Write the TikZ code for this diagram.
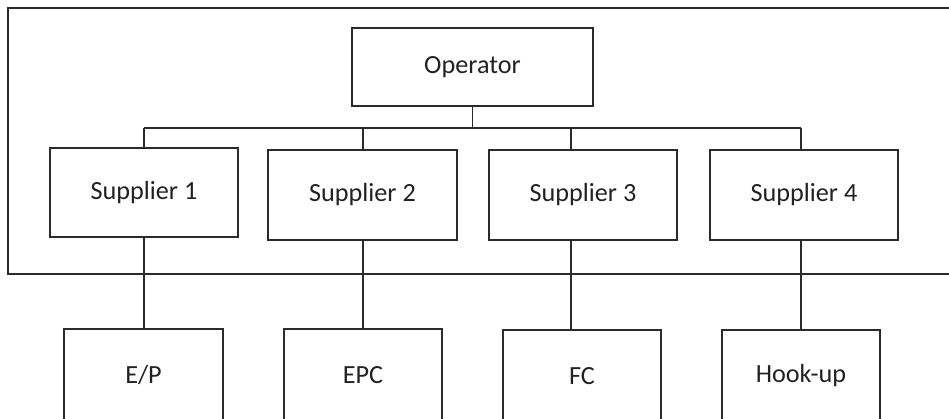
\documentclass[tikz,border=0pt]{standalone}
\usepackage{fontspec}
\setmainfont{Carlito}
\usetikzlibrary{calc}
\definecolor{ink}{HTML}{2B2B2B}
\definecolor{txt}{HTML}{222222}
\tikzset{
  unitbox/.style={draw=ink, line width=1.4pt, fill=white, inner sep=0pt,
    text=txt, font=\fontsize{26.2}{31}\selectfont, anchor=center},
  wire/.style={draw=ink, line width=1.4pt},
}
\begin{document}
\begin{tikzpicture}[x=1pt, y=-1pt]
  \clip (0,0) rectangle (949,418);
  \fill[white] (0,0) rectangle (949,418);

  % outer frame, open on the right
  \draw[wire] (960,8) -- (8,8) -- (8,274) -- (960,274);

  % top level
  \node[unitbox, minimum width=241pt, minimum height=78pt] (op) at (472.5,67) {Operator};

  % suppliers
  \node[unitbox, minimum width=188pt, minimum height=89pt] (s1) at (144,192.5) {Supplier 1};
  \node[unitbox, minimum width=189pt, minimum height=90pt] (s2) at (362.5,195) {Supplier 2};
  \node[unitbox, minimum width=188pt, minimum height=90pt] (s3) at (583,195) {Supplier 3};
  \node[unitbox, minimum width=188pt, minimum height=90pt] (s4) at (804,195) {Supplier 4};

  % contractors
  \node[unitbox, minimum width=159pt, minimum height=92pt] (ep)  at (143.5,375) {E/P};
  \node[unitbox, minimum width=158pt, minimum height=92pt] (epc) at (363,375) {EPC};
  \node[unitbox, minimum width=158pt, minimum height=92pt] (fc)  at (582,376) {FC};
  \node[unitbox, minimum width=158pt, minimum height=92pt] (hu)  at (801,376) {Hook-up};

  % branch points on the bus
  \coordinate (j1) at (144,128);
  \coordinate (j2) at (363,128);
  \coordinate (j3) at (571,128);
  \coordinate (j4) at (801,128);
  \coordinate (jo) at (472.5,128);

  % bus and drops
  \draw[wire] (op.south) -- (jo);
  \draw[wire] (j1) -- (j4);
  \draw[wire] (j1) -- (j1 |- s1.north);
  \draw[wire] (j2) -- (j2 |- s2.north);
  \draw[wire] (j3) -- (j3 |- s3.north);
  \draw[wire] (j4) -- (j4 |- s4.north);

  % supplier to contractor links
  \draw[wire] (j1 |- s1.south) -- (j1 |- ep.north);
  \draw[wire] (j2 |- s2.south) -- (j2 |- epc.north);
  \draw[wire] (j3 |- s3.south) -- (j3 |- fc.north);
  \draw[wire] (j4 |- s4.south) -- (j4 |- hu.north);
\end{tikzpicture}
\end{document}
